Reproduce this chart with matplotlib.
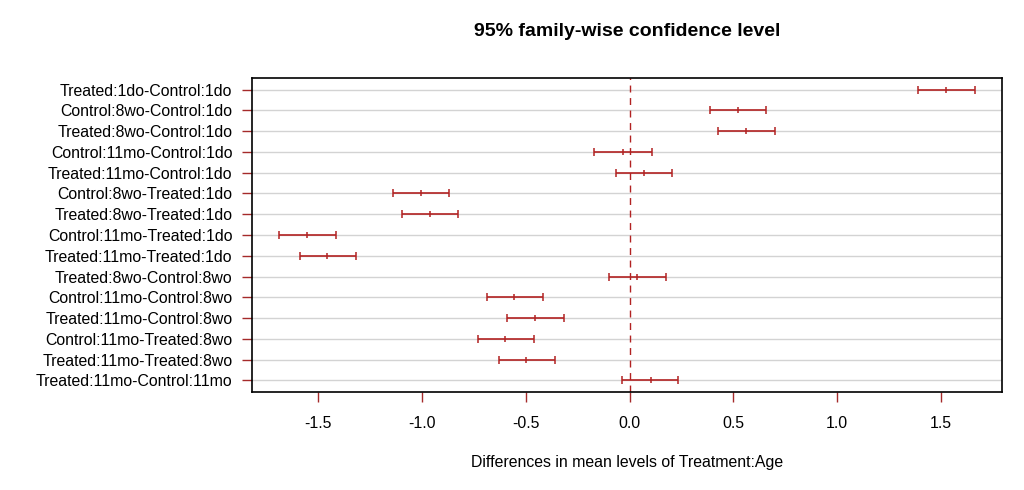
import numpy as np
from matplotlib import pyplot as plt

comparisons = [
    "Treated:1do-Control:1do",
    "Control:8wo-Control:1do",
    "Treated:8wo-Control:1do",
    "Control:11mo-Control:1do",
    "Treated:11mo-Control:1do",
    "Control:8wo-Treated:1do",
    "Treated:8wo-Treated:1do",
    "Control:11mo-Treated:1do",
    "Treated:11mo-Treated:1do",
    "Treated:8wo-Control:8wo",
    "Control:11mo-Control:8wo",
    "Treated:11mo-Control:8wo",
    "Control:11mo-Treated:8wo",
    "Treated:11mo-Treated:8wo",
    "Treated:11mo-Control:11mo",
]
diff = [1.524, 0.523, 0.562, -0.030, 0.071, -1.002, -0.962, -1.552, -1.455,
        0.037, -0.555, -0.454, -0.599, -0.497, 0.101]
lwr = [1.388, 0.385, 0.428, -0.170, -0.064, -1.137, -1.098, -1.686, -1.589,
       -0.097, -0.688, -0.589, -0.732, -0.631, -0.035]
upr = [1.663, 0.659, 0.698, 0.106, 0.205, -0.868, -0.824, -1.415, -1.315,
       0.177, -0.419, -0.318, -0.458, -0.357, 0.235]

bar_color = "#B22222"
tick_color = "#A52A2A"

diff = np.array(diff)
lwr = np.array(lwr)
upr = np.array(upr)
pos = np.arange(1, len(comparisons) + 1)

fig = plt.figure(figsize=(10.24, 4.9), dpi=100)
ax = fig.add_axes([252 / 1024, 1 - 392 / 490, 750 / 1024, 314 / 490])

for y in pos:
    ax.axhline(y, color="#D3D3D3", lw=1, zorder=1)
ax.axvline(0, color=bar_color, lw=1, ls=(0, (5, 4)), zorder=2)

# confidence intervals: caps at the ends, tick at the mean difference
ax.errorbar(diff, pos, xerr=[diff - lwr, upr - diff], fmt="|", color=bar_color,
            ecolor=bar_color, elinewidth=1.2, capsize=2.8, capthick=1.1,
            markersize=4, mew=1.1, zorder=3)

ax.set_xlim(-1.818, 1.793)
ax.set_ylim(len(comparisons) + 0.56, 1 - 0.56)
ax.set_yticks(pos)
ax.set_yticklabels(comparisons, fontsize=11.4, family="Liberation Sans")
ax.set_xticks([-1.5, -1.0, -0.5, 0.0, 0.5, 1.0, 1.5])
ax.set_xticklabels(["-1.5", "-1.0", "-0.5", "0.0", "0.5", "1.0", "1.5"],
                   fontsize=11.4, family="Liberation Sans")
ax.tick_params(axis="both", color=tick_color, length=7.2, width=1)
ax.tick_params(axis="x", pad=10)
ax.tick_params(axis="y", pad=7)
for s in ax.spines.values():
    s.set_linewidth(1.2)

ax.set_xlabel("Differences in mean levels of Treatment:Age", fontsize=11.4,
              family="Liberation Sans", labelpad=17)
fig.text((252 + 1002) / 2 / 1024, 1 - 31 / 490, "95% family-wise confidence level",
         ha="center", va="center", fontsize=14, fontweight="bold",
         family="Liberation Sans")

fig.savefig("out.png", dpi=100)
